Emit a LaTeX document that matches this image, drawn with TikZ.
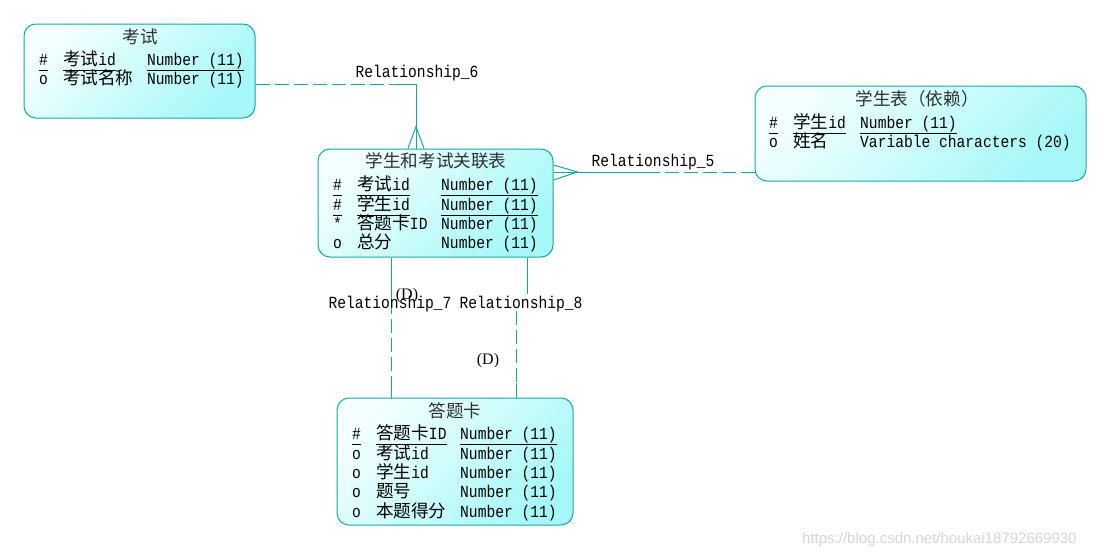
\documentclass[tikz,border=0pt]{standalone}
\usepackage{fontspec}
\setmainfont[FakeStretch=0.86]{Liberation Mono}
\newfontfamily\cjk[Scale=1.035]{Noto Sans CJK SC}
\newfontfamily\dfont{Liberation Serif}
\newfontfamily\markfont{Liberation Sans}
\newcommand{\keyfield}[1]{\underline{#1\vphantom{(}}}

\begin{document}
\begin{tikzpicture}[x=1pt, y=-1pt, font=\fontsize{17}{20}\selectfont]
    \definecolor{lineColour}{HTML}{14A8A8}
    \definecolor{fillLight}{HTML}{F4FFFF}
    \definecolor{fillDark}{HTML}{A6F8F8}
    \definecolor{titleColour}{HTML}{303030}
    \definecolor{markColour}{HTML}{D6D6D6}

    \tikzset{
        entity/.style={draw=lineColour, line width=1pt, rounded corners=12pt,
            top color=fillLight, bottom color=fillDark, shading angle=45, inner sep=0pt},
        title/.style={anchor=base, inner sep=0pt, text=titleColour},
        field/.style={anchor=base west, inner sep=0pt},
        rel/.style={draw=lineColour, line width=1pt},
        reldash/.style={rel, dash pattern=on 14pt off 5pt},
        rellabel/.style={anchor=base, inner sep=0pt}
    }

    \useasboundingbox (0,0) rectangle (1102,554);

    % Entity boxes
    \node[entity, minimum width=231pt, minimum height=94pt] (exam) at (139.5,71) {};
    \node[entity, minimum width=235pt, minimum height=108pt] (link) at (435.5,203) {};
    \node[entity, minimum width=331pt, minimum height=95pt] (student) at (920.5,133.5) {};
    \node[entity, minimum width=236pt, minimum height=127pt] (card) at (455,461.5) {};

    % Entity: 考试
    \node[title] (examTitle) at (140,43) {\cjk 考试};
    \foreach \y/\k/\n/\t [count=\i] in {
        65/{\keyfield{\#}}/{\keyfield{{\cjk 考试}id}}/{\keyfield{Number (11)}},
        84/o/{{\cjk 考试名称}}/{Number (11)}}
    {
        \node[field] (examKey\i) at (39,\y) {\k};
        \node[field] (examName\i) at (63,\y) {\n};
        \node[field] (examType\i) at (147,\y) {\t};
    }

    % Entity: 学生和考试关联表
    \node[title] (linkTitle) at (436,167) {\cjk 学生和考试关联表};
    \foreach \y/\k/\n/\t [count=\i] in {
        190/{\keyfield{\#}}/{\keyfield{{\cjk 考试}id}}/{\keyfield{Number (11)}},
        210/{\keyfield{\#}}/{\keyfield{{\cjk 学生}id}}/{\keyfield{Number (11)}},
        229/*/{{\cjk 答题卡}ID}/{Number (11)},
        248/o/{{\cjk 总分}}/{Number (11)}}
    {
        \node[field] (linkKey\i) at (333,\y) {\k};
        \node[field] (linkName\i) at (357,\y) {\n};
        \node[field] (linkType\i) at (441,\y) {\t};
    }

    % Entity: 学生表（依赖）
    \node[title] (studentTitle) at (917,105) {\cjk 学生表（依赖）};
    \foreach \y/\k/\n/\t [count=\i] in {
        128/{\keyfield{\#}}/{\keyfield{{\cjk 学生}id}}/{\keyfield{Number (11)}},
        147/o/{{\cjk 姓名}}/{Variable characters (20)}}
    {
        \node[field] (studentKey\i) at (769,\y) {\k};
        \node[field] (studentName\i) at (793,\y) {\n};
        \node[field] (studentType\i) at (860,\y) {\t};
    }

    % Entity: 答题卡
    \node[title] (cardTitle) at (455,417) {\cjk 答题卡};
    \foreach \y/\k/\n/\t [count=\i] in {
        439/{\keyfield{\#}}/{\keyfield{{\cjk 答题卡}ID}}/{\keyfield{Number (11)}},
        459/o/{{\cjk 考试}id}/{Number (11)},
        478/o/{{\cjk 学生}id}/{Number (11)},
        497/o/{{\cjk 题号}}/{Number (11)},
        517/o/{{\cjk 本题得分}}/{Number (11)}}
    {
        \node[field] (cardKey\i) at (352,\y) {\k};
        \node[field] (cardName\i) at (376,\y) {\n};
        \node[field] (cardType\i) at (460,\y) {\t};
    }

    % Relationship_6: 考试 -> 学生和考试关联表
    \coordinate (r6a) at (392,84);
    \coordinate (r6) at (416,84);
    \draw[reldash] (exam.east |- r6a) -- (r6a);
    \draw[rel] (r6a) -- (r6) -- (r6 |- link.north);
    \draw[rel] (r6 |- link.north) ++(-8,0) -- ++(8,-22) -- ++(8,22);
    \node[rellabel] (r6Label) at (417,77) {Relationship\_6};

    % Relationship_5: 学生表 -> 学生和考试关联表
    \coordinate (r5a) at (657,172);
    \coordinate (r5) at (577,172);
    \draw[reldash] (student.west |- r5a) -- (r5a);
    \draw[rel] (r5a) -- (link.east |- r5);
    \draw[rel] (link.east |- r5) ++(0,-7) -- ++(24,7) -- ++(-24,8);
    \node[rellabel] (r5Label) at (653,166) {Relationship\_5};

    % Relationship_7
    \coordinate (r7a) at (391,300);
    \coordinate (r7b) at (391,383);
    \draw[rel] (r7a |- link.south) -- (r7a);
    \draw[reldash] (r7a) -- (r7b);
    \draw[rel] (r7b) -- (r7b |- card.north);
    \node[rellabel] (r7Label) at (390,308) {Relationship\_7};
    \node[rellabel, font=\dfont\fontsize{16}{18}\selectfont] (r7Dep) at (407,299) {(D)};

    % Relationship_8
    \coordinate (r8a) at (527,294);
    \coordinate (r8b) at (516,311);
    \coordinate (r8c) at (516,383);
    \draw[rel] (r8a |- link.south) -- (r8a);
    \draw[reldash] (r8b) -- (r8c);
    \draw[rel] (r8c) -- (r8c |- card.north);
    \node[rellabel] (r8Label) at (521,308) {Relationship\_8};
    \node[rellabel, font=\dfont\fontsize{16}{18}\selectfont] (r8Dep) at (488,364) {(D)};

    % Watermark
    \node[anchor=base west, inner sep=0pt, text=markColour, font=\markfont\fontsize{15}{18}\selectfont]
        (mark) at (802,543) {https://blog.csdn.net/houkai18792669930};

\end{tikzpicture}
\end{document}
